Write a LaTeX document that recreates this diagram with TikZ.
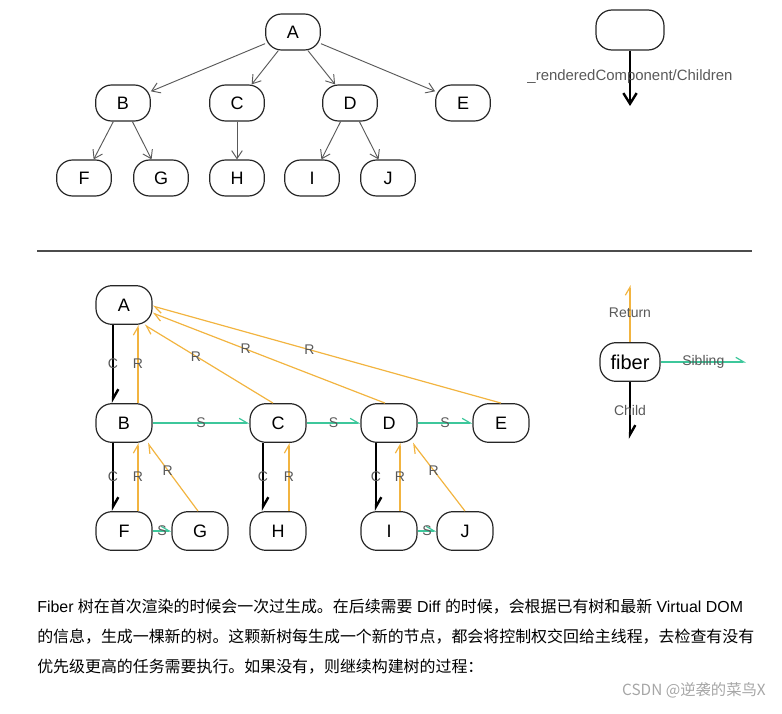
\documentclass[tikz,border=0pt]{standalone}
\usepackage{fontspec}
\setmainfont{Liberation Sans}
\newfontfamily\cjk{Noto Sans CJK SC}
\usetikzlibrary{arrows.meta}
\definecolor{rcol}{HTML}{F2B440}
\definecolor{scol}{HTML}{3DC79B}
\newcommand{\zh}[1]{{\cjk #1}}
\begin{document}
\begin{tikzpicture}[x=0.75pt,y=-0.75pt,
 box/.style={draw=black!85,rounded corners=12pt,minimum width=41pt,minimum height=27pt,font=\fontsize{13.5}{15}\selectfont,line width=0.9pt},
 fbox/.style={box,minimum width=42pt,minimum height=29pt},
 tarr/.style={draw=black!65,line width=0.7pt,-{Straight Barb[length=6pt,width=8pt]}},
 child/.style={draw=black,line width=1.8pt,-{Straight Barb[length=7pt,width=8pt,left]}},
 ret/.style={draw=rcol,line width=0.9pt,-{Straight Barb[length=6pt,width=7pt,left]}},
 sib/.style={draw=scol,line width=0.9pt,-{Straight Barb[length=6pt,width=7pt,left]}},
 lab/.style={text=black!65,font=\fontsize{10.5}{12}\selectfont,inner sep=1pt},
 par/.style={anchor=west,inner sep=0pt,font=\fontsize{11.95}{13}\selectfont}]
\useasboundingbox (0,0) rectangle (782,714);
% top tree
\node[box] (a) at (293,32) {A};
\node[box] (b) at (123,103) {B};
\node[box] (c) at (237,103) {C};
\node[box] (d) at (350,103) {D};
\node[box] (e) at (463,103) {E};
\node[box] (f) at (84,178) {F};
\node[box] (g) at (161,178) {G};
\node[box] (h) at (237,178) {H};
\node[box] (i) at (312,178) {I};
\node[box] (j) at (388,178) {J};
\foreach \s/\t in {a/b,a/c,a/d,a/e,b/f,b/g,c/h,d/i,d/j} \draw[tarr] (\s) -- (\t);
% legend top
\node[box,minimum width=51pt,minimum height=30pt] (lg) at (630,30) {};
\coordinate (lgend) at (630,106);
\draw[black,line width=1.8pt,-{Straight Barb[length=8pt,width=10pt]}] (lg.south) -- (lgend);
\node[lab,font=\fontsize{11.2}{13}\selectfont] at (630,77) {\_renderedComponent/Children};
% separator
\coordinate (s1) at (37,251); \coordinate (s2) at (752,251);
\draw[black!70,line width=0.8pt] (s1) -- (s2);
% fiber tree
\node[fbox] (A) at (124,305) {A};
\node[fbox] (B) at (124,423) {B};
\node[fbox] (C) at (278,423) {C};
\node[fbox] (D) at (389,423) {D};
\node[fbox] (E) at (501,423) {E};
\node[fbox] (F) at (124,531) {F};
\node[fbox] (G) at (200,531) {G};
\node[fbox] (H) at (278,531) {H};
\node[fbox] (I) at (389,531) {I};
\node[fbox] (J) at (465,531) {J};
% child
\draw[child] ([xshift=-11*0.75pt]A.south) -- node[lab]{C} ([xshift=-11*0.75pt]B.north);
\draw[child] ([xshift=-11*0.75pt]B.south) -- node[lab]{C} ([xshift=-11*0.75pt]F.north);
\draw[child] ([xshift=-15*0.75pt]C.south) -- node[lab]{C} ([xshift=-15*0.75pt]H.north);
\draw[child] ([xshift=-13*0.75pt]D.south) -- node[lab]{C} ([xshift=-13*0.75pt]I.north);
% return
\draw[ret] ([xshift=14*0.75pt]B.north) -- node[lab]{R} ([xshift=14*0.75pt]A.south);
\draw[ret] ([xshift=14*0.75pt]F.north) -- node[lab]{R} ([xshift=14*0.75pt]B.south);
\draw[ret] ([xshift=11*0.75pt]H.north) -- node[lab]{R} ([xshift=11*0.75pt]C.south);
\draw[ret] ([xshift=11*0.75pt]I.north) -- node[lab]{R} ([xshift=11*0.75pt]D.south);
\draw[ret] ([xshift=-5*0.75pt]C.north) -- node[lab,pos=0.6]{R} ([xshift=-8*0.75pt]A.south east);
\draw[ret] ([xshift=-4*0.75pt]D.north) -- node[lab,pos=0.6]{R} ([yshift=-8*0.75pt]A.east);
\draw[ret] (E.north) -- node[lab,pos=0.55]{R} ([yshift=-1*0.75pt]A.east);
\draw[ret] ([xshift=-2*0.75pt]G.north) -- node[lab,pos=0.6]{R} ([xshift=-5*0.75pt]B.south east);
\draw[ret] (J.north) -- node[lab,pos=0.6]{R} ([xshift=-5*0.75pt]D.south east);
% siblings
\draw[sib] (B) -- node[lab]{S} (C);
\draw[sib] (C) -- node[lab]{S} (D);
\draw[sib] (D) -- node[lab]{S} (E);
\draw[sib] (F) -- node[lab]{S} (G);
\draw[sib] (I) -- node[lab]{S} (J);
% legend fiber
\node[fbox,minimum width=45pt,font=\fontsize{15}{17}\selectfont] (fb) at (630,362) {fiber};
\coordinate (rt) at (630,285);
\coordinate (st) at (746,362);
\coordinate (ct) at (630,439);
\draw[ret] (fb.north) -- node[lab,pos=0.52]{Return} (rt);
\draw[sib] (fb.east) -- node[lab]{Sibling} (st);
\draw[child] (fb.south) -- node[lab,pos=0.5]{Child} (ct);
% text
\node[par] (p1) at (37,607) {Fiber \zh{树在首次渲染的时候会一次过生成。在后续需要} Diff \zh{的时候，会根据已有树和最新} Virtual DOM};
\node[par] (p2) at (37,637) {\zh{的信息，生成一棵新的树。这颗新树每生成一个新的节点，都会将控制权交回给主线程，去检查有没有}};
\node[par] (p3) at (37,667) {\zh{优先级更高的任务需要执行。如果没有，则继续构建树的过程：}};
\node[anchor=east,inner sep=0pt,text=black!35,font=\cjk\fontsize{11.5}{13}\selectfont] (wm) at (766,690) {CSDN @逆袭的菜鸟X};
\end{tikzpicture}
\end{document}
